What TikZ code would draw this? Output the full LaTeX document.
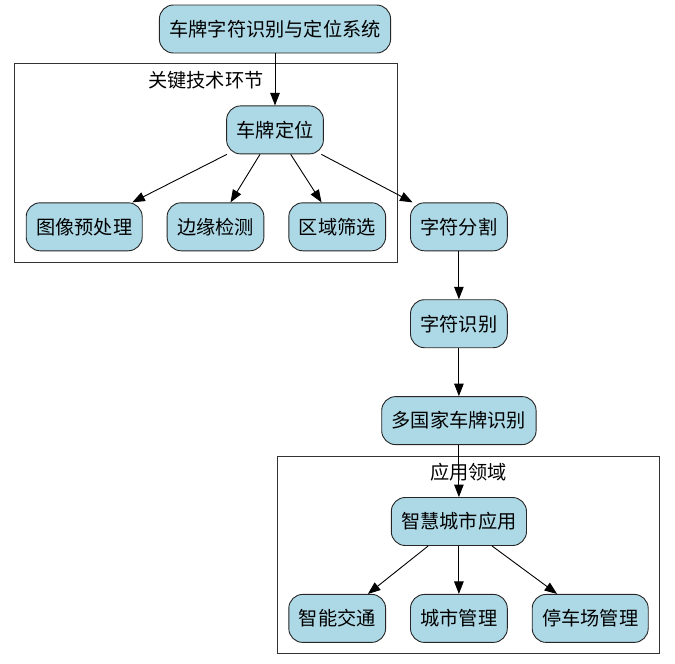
\documentclass[tikz,border=0pt]{standalone}
\usepackage{fontspec}
\setmainfont{Noto Sans CJK SC}
\usepackage{xcolor}
\usepackage{tikz}
\usetikzlibrary{arrows.meta, positioning, fit}

\definecolor{lightblue}{HTML}{ADD8E6}

\begin{document}
\begin{tikzpicture}[
    font=\fontsize{19.2pt}{23pt}\selectfont,
    node distance=48pt and 24pt,
    stage/.style={rectangle, draw=black!85, line width=0.9pt, fill=lightblue, rounded corners=14pt, minimum height=48pt, inner xsep=10pt},
    cluster/.style={rectangle, draw=black!80, line width=0.9pt, inner sep=11pt},
    clusterlabel/.style={inner sep=0pt},
    arrow/.style={-{Triangle[length=12.5pt, width=9.5pt]}, line width=0.9pt}
]
\useasboundingbox (0,0) rectangle (675pt,-664pt);

% Top system
\node[stage] (system) at (275pt,-29pt) {车牌字符识别与定位系统};

% Key techniques
\node[stage, below=52pt of system] (locate) {车牌定位};
\node[stage, below=48pt of locate, xshift=-59.5pt] (edges) {边缘检测};
\node[stage, left=of edges] (preproc) {图像预处理};
\node[stage, right=of edges] (filter) {区域筛选};

% Main chain
\node[stage, right=of filter] (segment) {字符分割};
\node[stage, below=of segment] (recog) {字符识别};
\node[stage, below=of recog] (multi) {多国家车牌识别};

% Applications
\node[stage, below=52pt of multi] (smart) {智慧城市应用};
\node[stage, below=of smart] (city) {城市管理};
\node[stage, left=of city] (traffic) {智能交通};
\node[stage, right=of city] (parking) {停车场管理};

% Clusters
\coordinate[above=31pt of locate] (keytop);
\node[cluster, fit=(preproc)(filter)(keytop)] (keyarea) {};
\node[clusterlabel, below=8pt of keyarea.north] (keylabel) {关键技术环节};

\coordinate[above=30pt of smart] (apptop);
\node[cluster, fit=(traffic)(parking)(apptop)] (apparea) {};
\node[clusterlabel, below=7pt of apparea.north] (applabel) {应用领域};

% Arrows
\draw[arrow] (system) -- (locate);
\draw[arrow] (locate) -- (preproc);
\draw[arrow] (locate) -- (edges);
\draw[arrow] (locate) -- (filter);
\draw[arrow] (locate) -- (segment);
\draw[arrow] (segment) -- (recog);
\draw[arrow] (recog) -- (multi);
\draw[arrow] (multi) -- (smart);
\draw[arrow] (smart) -- (traffic);
\draw[arrow] (smart) -- (city);
\draw[arrow] (smart) -- (parking);

\end{tikzpicture}
\end{document}
